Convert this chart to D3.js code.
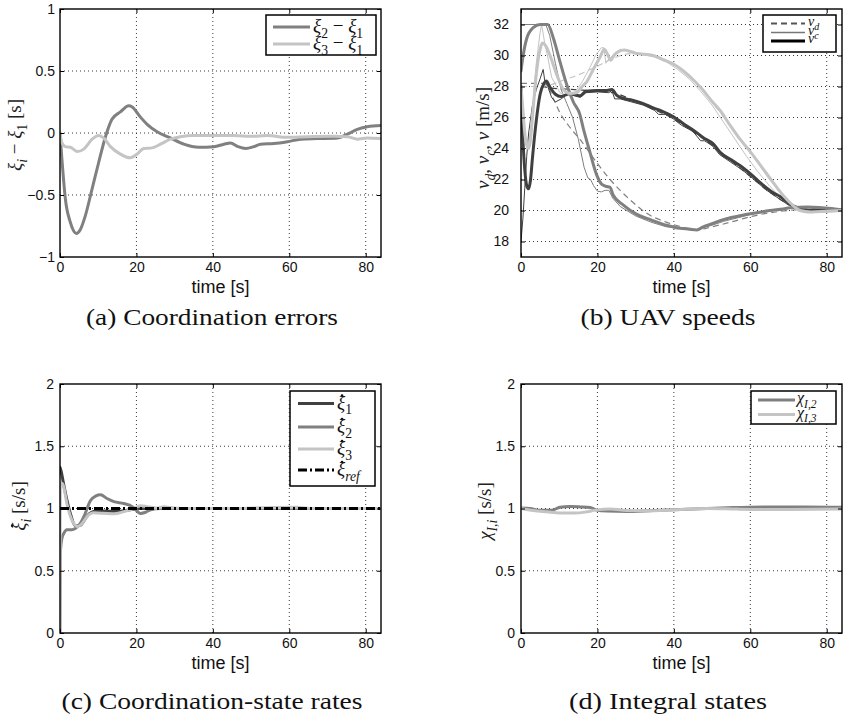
<!DOCTYPE html>
<html><head><meta charset="utf-8">
<script src="https://cdn.jsdelivr.net/npm/d3@7"></script>
<style>body{margin:0;background:#fff;} svg{display:block;}</style>
</head><body>
<svg id="chart" width="843" height="717"></svg>
<script>
// ---------- tick values ----------
const timeTicks = [0, 20, 40, 60, 80];
const errTicks = [-1, -0.5, 0, 0.5, 1];
const speedTicks = [18, 20, 22, 24, 26, 28, 30, 32];
const rateTicks = [0, 0.5, 1, 1.5, 2];

// ---------- (a) coordination errors [t, value] ----------
const err21 = [[0,0],[0.5,-0.21],[1.4,-0.53],[2.7,-0.72],[4.3,-0.81],[5.3,-0.78],[6.6,-0.67],[8.4,-0.45],[10.1,-0.24],[11.9,-0.03],[13.6,0.11],[15.8,0.17],[18,0.22],[18.9,0.21],[21,0.13],[22.8,0.07],[25.4,0.01],[28.9,-0.04],[32.4,-0.09],[36.3,-0.115],[40.3,-0.11],[42.9,-0.09],[44.6,-0.08],[46.6,-0.11],[48.6,-0.125],[50.7,-0.11],[52.5,-0.09],[56,-0.085],[59.5,-0.07],[63,-0.05],[67.3,-0.045],[72.6,-0.04],[75.2,-0.01],[77.8,0.03],[80.4,0.05],[84,0.06]];
const err31 = [[0,0],[0.5,-0.08],[1.4,-0.11],[2.7,-0.115],[4.6,-0.15],[6.2,-0.13],[8.4,-0.05],[10.1,-0.02],[11.4,-0.04],[13.2,-0.11],[15.8,-0.17],[18.4,-0.2],[20.2,-0.17],[21.9,-0.125],[24.1,-0.12],[26.3,-0.09],[28.9,-0.05],[31.5,-0.03],[35,-0.02],[40.3,-0.02],[45.5,-0.02],[49.9,-0.027],[54.2,-0.02],[59.5,-0.035],[64.7,-0.03],[71.7,-0.027],[75.2,-0.03],[77.8,-0.05],[80.4,-0.04],[84,-0.045]];

// ---------- (b) UAV speeds [t, m/s] ----------
const v1 = [[0,28.0],[0.5,24.6],[1,22.6],[1.5,21.6],[2,21.4],[2.5,22.0],[3,23.4],[4,25.8],[5,27.5],[6,28.2],[6.6,28.35],[7.6,27.95],[9,27.5],[10.5,27.35],[12.8,27.55],[14.5,27.45],[15.5,27.4],[17,27.7],[20,27.75],[22.5,27.75],[23.8,27.8],[25,27.45],[26,27.3],[29.4,27.1],[32,26.9],[34.6,26.62],[37,26.4],[39.9,26.05],[42.5,25.6],[45,25.2],[47.7,24.7],[50.3,24.3],[52.1,23.75],[55.5,23.2],[57.3,22.9],[60.8,22.2],[62.6,21.8],[66,21.15],[67.8,20.9],[70.4,20.4],[72.2,20.2],[74,20.05],[78,20.0],[84,20.0]];
const v1c = [[0,18.0],[0.5,19.5],[1,21.5],[1.5,23.5],[2,25.0],[3,26.8],[4,27.8],[5,28.5],[5.8,29.1],[6.2,28.4],[7,28.0],[8,27.3],[9,27.0],[10.5,27.2],[12,27.5],[14,27.4],[15.5,27.3],[17,27.6],[20,27.65],[23,27.6],[23.8,27.75],[24.5,27.2],[26,27.2],[29,27.0],[32,26.8],[35,26.45],[36,26.2],[38,26.2],[39.9,25.9],[42,25.5],[45,25.1],[47,24.5],[48,24.5],[50,24.2],[52,23.6],[55,23.1],[58,22.6],[61,22.0],[64,21.35],[67,20.85],[70,20.35],[72.5,20.1],[75,20.0],[84,20.0]];
const v1d = [[0,28.0],[5,28.0],[8,27.9],[14,27.8],[20,27.7],[24,27.6],[30,27.05],[35,26.5],[40,25.9],[45,25.1],[50,24.2],[55,23.2],[60,22.2],[65,21.2],[70,20.4],[73,20.05],[78,20.0],[84,20.0]];
const v2 = [[0,29.0],[0.5,29.9],[1.5,31.1],[3.2,31.8],[5,32.0],[7,32.0],[8.5,31.1],[10.2,29.6],[12,28.1],[13.7,27.0],[15.4,26.2],[16.3,25.3],[18,23.8],[19.8,22.3],[21.1,21.7],[22.4,21.55],[23.3,21.5],[24.1,21.0],[26.8,20.35],[30.3,19.75],[34,19.4],[38.1,19.05],[41.6,18.85],[44,18.8],[46,18.75],[47.7,18.95],[50,19.15],[52.1,19.35],[55,19.55],[58,19.7],[60.8,19.82],[65.1,20.0],[68.6,20.1],[71,20.2],[74.8,20.22],[78.2,20.2],[81.7,20.12],[84,20.05]];
const v2c = [[0,32.0],[6.5,32.0],[7.5,31.3],[9,29.5],[10.5,27.8],[12,26.9],[13.5,26.0],[15,24.6],[16.5,22.8],[17.5,22.1],[18.2,22.0],[19,21.6],[20,21.25],[21,21.2],[22,21.3],[23,21.3],[24,20.8],[26,20.25],[30,19.65],[34,19.25],[38,18.95],[42,18.85],[45,18.7],[47,18.85],[50,19.05],[53,19.3],[57,19.55],[61,19.8],[65,19.95],[70,20.15],[75,20.2],[80,20.1],[84,20.0]];
const v2d = [[0,28.2],[6,28.2],[7,28.0],[8.5,27.2],[10.2,26.3],[13,25.3],[15.4,24.6],[19.8,23.1],[23.3,22.0],[28.5,20.7],[33,19.8],[38,19.25],[42,18.95],[46,18.75],[50,18.95],[55.6,19.3],[60,19.6],[65,19.85],[70,20.0],[75,20.1],[80,20.15],[84,20.1]];
const v3 = [[0,28.0],[0.5,26.5],[1,25.0],[1.5,24.2],[2,24.0],[2.5,24.6],[3,26.0],[4,28.8],[5,30.4],[5.6,30.8],[6.5,30.6],[7.6,30.0],[9.3,28.8],[11.1,27.8],[12.8,27.55],[14.5,27.6],[16,28.0],[17.2,28.3],[18.9,29.1],[20.7,29.9],[21.8,30.4],[22.6,30.1],[23.5,29.7],[24.3,30.0],[25.5,30.25],[27,30.35],[30,30.15],[34.6,30.0],[37,29.75],[39.9,29.45],[42.5,29.0],[45,28.45],[47.5,27.8],[50.3,26.95],[52.1,26.45],[54.7,25.5],[57,24.7],[60,23.8],[63,22.8],[66,21.8],[68.5,21.0],[71.3,20.3],[73,20.0],[76,19.9],[80,19.95],[84,20.0]];
const v3c = [[0,26.5],[1,24.8],[2,24.2],[3,26.5],[4,29.5],[5,31.5],[5.4,32.0],[6.2,30.8],[7,29.9],[8,28.6],[10.2,27.6],[12,27.4],[14,27.6],[16,28.3],[18,29.2],[19.5,30.0],[21,30.5],[21.7,30.5],[22.2,29.5],[22.7,29.7],[24,30.0],[26,30.4],[28,30.3],[31,30.1],[35,29.9],[38,29.6],[41,29.1],[44,28.5],[47,27.7],[50,26.8],[53,25.7],[56,24.6],[59,23.5],[62,22.5],[65,21.6],[68,20.8],[70.5,20.3],[72.5,20.0],[75,19.85],[80,19.9],[84,19.95]];
const v3d = [[0,28.0],[5,28.0],[7.6,28.1],[11,28.4],[15,28.75],[20.7,29.4],[24,29.8],[28,30.1],[32,30.1],[36,29.9],[40,29.4],[45,28.4],[50,27.0],[55,25.4],[60,23.8],[65,22.1],[70,20.5],[73,20.0],[78,19.95],[84,20.0]];

// ---------- (c) coordination-state rates [t, s/s] ----------
const rate1 = [[0,1.33],[0.3,1.3],[0.8,1.22],[1.8,1.07],[2.9,0.94],[4,0.86],[5.3,0.865],[7.1,0.94],[8.8,0.975],[11.4,0.98],[14.9,0.976],[18.4,0.99],[21,1.0],[30,1.0],[84,1.0]];
const rate2 = [[0,0],[0.12,0.66],[0.5,0.76],[1,0.8],[1.8,0.83],[3.1,0.83],[4,0.84],[5.3,0.88],[6.6,0.96],[7.9,1.06],[9.3,1.1],[10.6,1.11],[12.3,1.08],[14.1,1.055],[16.7,1.04],[18.9,1.015],[20.2,0.978],[21,0.96],[22.4,0.97],[23.7,0.99],[26.3,1.0],[30,1.0],[84,1.0]];
const rate3 = [[0,0],[0.1,1.2],[0.6,1.2],[1,1.17],[1.8,1.04],[2.7,0.94],[3.6,0.88],[4.6,0.855],[5.8,0.88],[7.1,0.935],[8.8,0.965],[11.4,0.962],[14.1,0.957],[16.7,0.975],[19.3,1.0],[21,1.022],[22.8,1.015],[25.4,1.003],[27.2,1.015],[28.9,1.008],[32.4,1.0],[45,1.0],[55,1.008],[62,1.01],[66,1.0],[84,1.0]];
const rateRef = [[0,1],[84,1]];

// ---------- (d) integral states [t, s/s] ----------
const chi2 = [[0,1.005],[2.4,1.0],[5,0.985],[8,0.985],[10.2,1.01],[12.8,1.016],[15.5,1.013],[18.1,1.008],[19.8,0.987],[22.4,0.979],[27.7,0.976],[34.7,0.984],[41.7,0.992],[48.6,1.0],[55.6,1.008],[65.2,1.013],[74,1.013],[84,1.01]];
const chi3 = [[0,1.0],[3.2,0.984],[6.7,0.973],[10.2,0.963],[13.7,0.963],[17.2,0.973],[19.8,0.989],[23.3,0.995],[27.7,0.984],[33,0.981],[40,0.989],[48.6,1.0],[56.5,0.995],[65.2,0.992],[84,0.995]];

// ---------- drawing ----------
const C_DARK = '#404040', C_MED = '#808080', C_LIGHT = '#c4c4c4';
const svg = d3.select('#chart');
const SANS = '"Liberation Sans", Arial, Helvetica, sans-serif';
const SERIF = '"Liberation Serif", "DejaVu Serif", serif';

// renders math-like text into a <text>; parts with dot:true get a dot drawn above them
function mathText(holder, textSel, parts, fs) {
  let shifted = 0, idx = 0;
  const dots = [];
  parts.forEach(p => {
    const ts = textSel.append('tspan').text(p.t);
    if (p.it) ts.attr('font-style', 'italic');
    const want = p.sub ? fs * 0.3 : 0;
    if (want !== shifted) { ts.attr('dy', want - shifted); shifted = want; }
    if (p.sub) ts.attr('font-size', fs * 0.72);
    if (p.dot) dots.push(idx);
    idx += p.t.length;
  });
  dots.forEach(i => {
    const r = textSel.node().getExtentOfChar(i);
    holder.append('circle').attr('cx', r.x + r.width * 0.62).attr('cy', r.y + r.height * 0.2)
      .attr('r', fs * 0.07).attr('fill', '#111');
  });
}

function fmtNum(d) { return d < 0 ? '\u2212' + Math.abs(d) : String(d); }

function drawPanel(p) {
  const g = svg.append('g');
  const x = d3.scaleLinear().domain([0, 84]).range([p.L, p.R]);
  const y = d3.scaleLinear().domain(p.yd).range([p.B, p.T]);
  const cid = 'clip' + p.id;
  svg.append('clipPath').attr('id', cid).append('rect')
    .attr('x', p.L).attr('y', p.T).attr('width', p.R - p.L).attr('height', p.B - p.T);
  // grid
  const grid = g.append('g').attr('stroke', '#222').attr('stroke-width', 0.9).attr('stroke-dasharray', '1,3');
  timeTicks.filter(t => t > 0).forEach(t => grid.append('line').attr('x1', x(t)).attr('x2', x(t)).attr('y1', p.T).attr('y2', p.B));
  p.yt.filter(v => v > p.yd[0] && v < p.yd[1]).forEach(v => grid.append('line').attr('x1', p.L).attr('x2', p.R).attr('y1', y(v)).attr('y2', y(v)));
  // series
  const lg = g.append('g').attr('clip-path', `url(#${cid})`);
  p.series.forEach(s => {
    const line = d3.line().x(d => x(d[0])).y(d => y(d[1])).curve(s.linear ? d3.curveLinear : d3.curveMonotoneX);
    lg.append('path').datum(s.data).attr('d', line).attr('fill', 'none')
      .attr('stroke', s.color).attr('stroke-width', s.w)
      .attr('stroke-dasharray', s.dash || null).attr('stroke-linejoin', 'round').attr('stroke-linecap', s.dash ? 'butt' : 'round');
  });
  // axes
  const ax = g.append('g').attr('font-family', SANS);
  const bottom = ax.append('g').attr('transform', `translate(0,${p.B})`)
    .call(d3.axisBottom(x).tickValues(timeTicks).tickSize(-4).tickPadding(5).tickFormat(d3.format('d')));
  const top = ax.append('g').attr('transform', `translate(0,${p.T})`)
    .call(d3.axisTop(x).tickValues(timeTicks).tickSize(-4).tickFormat(''));
  const left = ax.append('g').attr('transform', `translate(${p.L},0)`)
    .call(d3.axisLeft(y).tickValues(p.yt).tickSize(-4).tickPadding(p.pad).tickFormat(fmtNum));
  const right = ax.append('g').attr('transform', `translate(${p.R},0)`)
    .call(d3.axisRight(y).tickValues(p.yt).tickSize(-4).tickFormat(''));
  [bottom, top, left, right].forEach(a => {
    a.select('.domain').remove();
    a.selectAll('.tick line').attr('stroke', '#000').attr('stroke-width', 1);
    a.selectAll('.tick text').attr('font-size', 14).attr('fill', '#111').attr('font-family', SANS);
  });
  // frame
  g.append('rect').attr('x', p.L).attr('y', p.T).attr('width', p.R - p.L).attr('height', p.B - p.T)
    .attr('fill', 'none').attr('stroke', '#000').attr('stroke-width', 1.4);
  // x label
  g.append('text').attr('x', (p.L + p.R) / 2).attr('y', p.B + 36).attr('text-anchor', 'middle')
    .attr('font-family', SANS).attr('font-size', 18).attr('fill', '#111').text('time [s]');
  // y label
  const ylg = g.append('g').attr('transform', `translate(${p.ylx},${p.yly}) rotate(-90)`);
  const yl = ylg.append('text').attr('text-anchor', 'middle').attr('font-family', SERIF)
    .attr('font-size', p.ylfs).attr('fill', '#222');
  mathText(ylg, yl, p.ylabel, p.ylfs);
  // legend
  const lgd = p.legend;
  const L = g.append('g');
  L.append('rect').attr('x', lgd.x0).attr('y', lgd.y0).attr('width', lgd.x1 - lgd.x0).attr('height', lgd.y1 - lgd.y0)
    .attr('fill', '#fff').attr('stroke', '#000').attr('stroke-width', 1.5);
  lgd.items.forEach(it => {
    L.append('line').attr('x1', lgd.lx0).attr('x2', lgd.lx1).attr('y1', it.y).attr('y2', it.y)
      .attr('stroke', it.color).attr('stroke-width', it.w).attr('stroke-dasharray', it.dash || null);
    const t = L.append('text').attr('x', lgd.tx).attr('y', it.y + lgd.off).attr('font-family', SERIF)
      .attr('font-size', lgd.fs).attr('fill', '#111');
    mathText(L, t, it.label, lgd.fs);
  });
  // caption
  g.append('text').attr('x', p.capx).attr('y', p.capy).attr('text-anchor', 'middle')
    .attr('font-family', SERIF).attr('font-size', 24).attr('fill', '#111')
    .attr('textLength', p.capw).attr('lengthAdjust', 'spacingAndGlyphs').text(p.caption);
}

const XI = '\u03BE', CHI = '\u03C7', MINUS = ' \u2212 ';
function xiDot(sub, subIt) {
  return [{t: XI, it: true, dot: true}, {t: sub, it: !!subIt, sub: true}];
}

drawPanel({
  id: 'a', L: 60, R: 381, T: 9, B: 257, yd: [-1, 1], yt: errTicks, pad: 5,
  series: [
    { data: err21, color: C_MED, w: 3 },
    { data: err31, color: C_LIGHT, w: 3 }
  ],
  ylx: 21, yly: 135, ylfs: 19,
  ylabel: [{t: XI, it: true}, {t: 'i', it: true, sub: true}, {t: MINUS}, {t: XI, it: true}, {t: '1', sub: true}, {t: ' [s]'}],
  legend: { x0: 266, x1: 376, y0: 15, y1: 55, lx0: 273, lx1: 310, tx: 313, fs: 19, off: 5, items: [
    { y: 27, color: C_MED, w: 3, label: [{t: XI, it: true}, {t: '2', sub: true}, {t: MINUS}, {t: XI, it: true}, {t: '1', sub: true}] },
    { y: 44, color: C_LIGHT, w: 3, label: [{t: XI, it: true}, {t: '3', sub: true}, {t: MINUS}, {t: XI, it: true}, {t: '1', sub: true}] }
  ]},
  caption: '(a) Coordination errors', capx: 212, capy: 325, capw: 252
});

drawPanel({
  id: 'b', L: 521, R: 842, T: 9, B: 257, yd: [17, 33], yt: speedTicks, pad: 12,
  series: [
    { data: v1d, color: C_DARK, w: 1.2, dash: '6,4' },
    { data: v2d, color: C_MED, w: 1.2, dash: '6,4' },
    { data: v3d, color: C_LIGHT, w: 1.2, dash: '6,4' },
    { data: v1c, color: C_DARK, w: 1, linear: true },
    { data: v2c, color: C_MED, w: 1, linear: true },
    { data: v3c, color: C_LIGHT, w: 1, linear: true },
    { data: v1, color: C_DARK, w: 3 },
    { data: v2, color: C_MED, w: 3 },
    { data: v3, color: C_LIGHT, w: 3 }
  ],
  ylx: 489, yly: 138, ylfs: 19,
  ylabel: [{t: 'v', it: true}, {t: 'd', it: true, sub: true}, {t: ', '}, {t: 'v', it: true}, {t: 'c', it: true, sub: true}, {t: ', '}, {t: 'v', it: true}, {t: ' [m/s]'}],
  legend: { x0: 763, x1: 836, y0: 15, y1: 52, lx0: 771, lx1: 805, tx: 808, fs: 14, off: 2, items: [
    { y: 23.5, color: '#555', w: 1.8, dash: '6,4', label: [{t: 'v', it: true}, {t: 'd', it: true, sub: true}] },
    { y: 32.5, color: '#777', w: 1.4, label: [{t: 'v', it: true}, {t: 'c', it: true, sub: true}] },
    { y: 41, color: '#000', w: 3, label: [{t: 'v', it: true}] }
  ]},
  caption: '(b) UAV speeds', capx: 668, capy: 325, capw: 175
});

drawPanel({
  id: 'c', L: 60, R: 381, T: 384, B: 633, yd: [0, 2], yt: rateTicks, pad: 6,
  series: [
    { data: rate1, color: C_DARK, w: 3 },
    { data: rate2, color: C_MED, w: 3 },
    { data: rate3, color: C_LIGHT, w: 3 },
    { data: rateRef, color: '#000', w: 3, dash: '9,3,2,3' }
  ],
  ylx: 25, yly: 506, ylfs: 19,
  ylabel: xiDot('i', true).concat([{t: ' [s/s]'}]),
  legend: { x0: 290, x1: 375, y0: 391, y1: 486, lx0: 298, lx1: 334, tx: 337, fs: 19, off: 5, items: [
    { y: 403.5, color: C_DARK, w: 3, label: xiDot('1') },
    { y: 427, color: C_MED, w: 3, label: xiDot('2') },
    { y: 449, color: C_LIGHT, w: 3, label: xiDot('3') },
    { y: 470, color: '#000', w: 3, dash: '9,3,2,3', label: xiDot('ref', true) }
  ]},
  caption: '(c) Coordination-state rates', capx: 212, capy: 709, capw: 301
});

drawPanel({
  id: 'd', L: 521, R: 842, T: 384, B: 633, yd: [0, 2], yt: rateTicks, pad: 6,
  series: [
    { data: chi2, color: C_MED, w: 3 },
    { data: chi3, color: C_LIGHT, w: 3 }
  ],
  ylx: 491, yly: 511, ylfs: 19,
  ylabel: [{t: CHI, it: true}, {t: 'I,i', it: true, sub: true}, {t: ' [s/s]'}],
  legend: { x0: 751, x1: 836, y0: 391, y1: 424, lx0: 758, lx1: 795, tx: 797, fs: 16, off: 3, items: [
    { y: 400, color: C_MED, w: 3, label: [{t: CHI, it: true}, {t: 'I,2', it: true, sub: true}] },
    { y: 414.5, color: C_LIGHT, w: 3, label: [{t: CHI, it: true}, {t: 'I,3', it: true, sub: true}] }
  ]},
  caption: '(d) Integral states', capx: 668, capy: 709, capw: 198
});
</script>
</body></html>
